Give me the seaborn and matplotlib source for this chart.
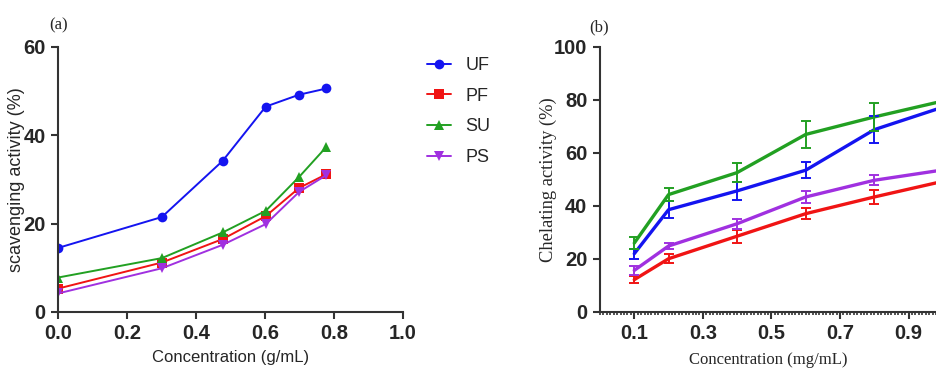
import numpy as np
import pandas as pd
import matplotlib
matplotlib.use("Agg")
import matplotlib.pyplot as plt
import seaborn as sns
from matplotlib.ticker import MultipleLocator

# -------------------------
# Data
# -------------------------
samples = ["UF", "PF", "SU", "PS"]
colors = {"UF": "#1414f0", "PF": "#f01414", "SU": "#22a022", "PS": "#a030e0"}
markers = {"UF": "o", "PF": "s", "SU": "^", "PS": "v"}

# (a) scavenging activity
conc_a = [0.0, 0.301, 0.477, 0.602, 0.699, 0.778]
scav_uf = [14.5, 21.5, 34.2, 46.5, 49.2, 50.6]
scav_pf = [5.3, 11.2, 16.5, 21.7, 28.1, 31.2]
scav_su = [7.8, 12.2, 18.0, 22.9, 30.6, 37.4]
scav_ps = [4.2, 9.9, 15.2, 19.9, 27.2, 31.0]

# (b) chelating activity, mean and error
conc_b = [0.1, 0.2, 0.4, 0.6, 0.8, 1.0]
chel_uf = [22.0, 38.6, 45.7, 53.5, 68.8, 77.3]
chel_pf = [12.2, 20.1, 28.6, 37.1, 43.4, 49.3]
chel_su = [26.0, 44.3, 52.6, 67.0, 73.6, 79.6]
chel_ps = [15.7, 24.9, 33.3, 43.4, 49.7, 53.6]
err_uf = [1.9, 3.1, 3.5, 3.1, 5.0, 3.0]
err_pf = [1.4, 1.6, 2.5, 2.1, 2.5, 2.0]
err_su = [2.2, 2.6, 3.5, 5.2, 5.2, 3.0]
err_ps = [1.6, 1.1, 1.8, 2.3, 1.9, 2.0]

df_a = pd.concat([
    pd.DataFrame({"conc": conc_a, "value": v, "sample": s})
    for s, v in zip(samples, [scav_uf, scav_pf, scav_su, scav_ps])
])
df_b = pd.concat([
    pd.DataFrame({"conc": conc_b, "value": v, "err": e, "sample": s})
    for s, v, e in zip(samples, [chel_uf, chel_pf, chel_su, chel_ps],
                       [err_uf, err_pf, err_su, err_ps])
])

# -------------------------
# Figure
# -------------------------
sns.set_theme(style="ticks")
plt.rcParams["font.family"] = ["Liberation Sans", "DejaVu Sans"]
serif = ["Liberation Serif", "DejaVu Serif"]

fig = plt.figure(figsize=(9.36, 3.69), dpi=100)
ax1 = fig.add_axes([0.062, 0.1545, 0.3686, 0.7182])
ax2 = fig.add_axes([0.641, 0.1545, 0.359, 0.7182])

spine_col = "#333333"

# panel (a)
sns.lineplot(data=df_a, x="conc", y="value", hue="sample", style="sample",
             palette=colors, markers=markers, dashes=False, markersize=7,
             markeredgewidth=0, linewidth=1.4, ax=ax1)
ax1.set_xlim(0, 1.0)
ax1.set_ylim(0, 60)
ax1.set_xticks(np.arange(0, 1.01, 0.2))
ax1.set_yticks([0, 20, 40, 60])
ax1.set_xlabel("Concentration (g/mL)", fontsize=12, labelpad=5)
ax1.set_ylabel("scavenging activity (%)", fontsize=13, labelpad=5)
ax1.yaxis.set_label_coords(-0.096, 0.5)

handles, labels = ax1.get_legend_handles_labels()
ax1.get_legend().remove()
fig.legend(handles, labels, loc="upper left", bbox_to_anchor=(0.439, 0.889),
           frameon=False, fontsize=13, handlelength=1.33, handletextpad=0.8,
           labelspacing=0.75)

# panel (b)
sns.lineplot(data=df_b, x="conc", y="value", hue="sample", palette=colors,
             linewidth=2.4, legend=False, ax=ax2)
for s in samples:
    d = df_b[df_b["sample"] == s]
    ax2.errorbar(d["conc"], d["value"], yerr=d["err"], fmt="none",
                 ecolor=colors[s], elinewidth=1.4, capsize=3.5, capthick=1.4)
ax2.set_xlim(0, 0.98)
ax2.set_ylim(0, 100)
ax2.set_xticks([0.1, 0.3, 0.5, 0.7, 0.9])
ax2.xaxis.set_minor_locator(MultipleLocator(0.01))
ax2.set_yticks([0, 20, 40, 60, 80, 100])
ax2.set_xlabel("Concentration (mg/mL)", fontsize=12, family=serif, labelpad=6)
ax2.set_ylabel("Chelating activity (%)", fontsize=13.3, family=serif)
ax2.yaxis.set_label_coords(-0.128, 0.5)
ax2.tick_params(axis="x", which="minor", length=2.5, width=1.2, direction="out",
                color=spine_col)

for ax in (ax1, ax2):
    sns.despine(ax=ax)
    for sp in ("left", "bottom"):
        ax.spines[sp].set_color(spine_col)
        ax.spines[sp].set_linewidth(1.5)
    ax.tick_params(axis="both", which="major", length=5, width=1.5,
                   color=spine_col, labelsize=14.5, pad=4)
    for lab in ax.get_xticklabels() + ax.get_yticklabels():
        lab.set_fontweight("bold")

fig.text(0.053, 0.92, "(a)", fontsize=12, family=serif)
fig.text(0.630, 0.915, "(b)", fontsize=12, family=serif)

fig.savefig("out.png", dpi=100)
